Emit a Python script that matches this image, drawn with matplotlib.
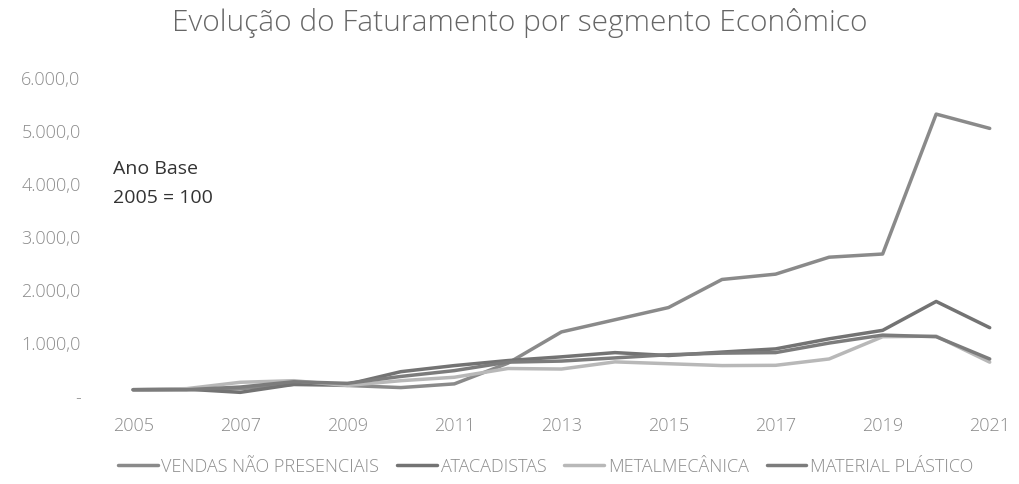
import matplotlib.pyplot as plt
from matplotlib.ticker import FuncFormatter, FixedLocator, MultipleLocator

# dados (índice, ano base 2005 = 100)
anos = list(range(2005, 2022))
vendas_nao_presenciais = [100, 100, 120, 200, 180, 140, 210, 600, 1190, 1420, 1650, 2180, 2280, 2600, 2660, 5300, 5030]
atacadistas = [100, 110, 50, 200, 200, 440, 555, 650, 720, 800, 745, 810, 870, 1060, 1220, 1765, 1270]
metalmecanica = [100, 120, 240, 270, 180, 270, 335, 500, 490, 625, 590, 555, 560, 680, 1100, 1110, 620]
material_plastico = [100, 100, 150, 250, 220, 350, 460, 620, 640, 700, 760, 790, 800, 980, 1130, 1100, 680]

series = [
    ("VENDAS NÃO PRESENCIAIS", vendas_nao_presenciais, "#8a8a8a"),
    ("ATACADISTAS", atacadistas, "#737373"),
    ("METALMECÂNICA", metalmecanica, "#b8b8b8"),
    ("MATERIAL PLÁSTICO", material_plastico, "#7c7c7c"),
]

plt.rcParams['font.family'] = ['Open Sans', 'DejaVu Sans']

fig = plt.figure(figsize=(10.2, 4.85), dpi=100)
ax = fig.add_axes([0.098, 0.1835, 0.887, 0.6557])

for nome, valores, cor in series:
    ax.plot(anos, valores, color=cor, lw=2.5, label=nome, solid_capstyle='round')

ax.set_xlim(2004.38, 2021.28)
ax.set_ylim(0, 6000)
ax.xaxis.set_major_locator(FixedLocator(anos[::2]))
ax.yaxis.set_major_locator(MultipleLocator(1000))


def fmt_valor(v, pos):
    if v == 0:
        return "-"
    s = f"{v:,.1f}"
    return s.replace(",", "X").replace(".", ",").replace("X", ".")


ax.yaxis.set_major_formatter(FuncFormatter(fmt_valor))
ax.tick_params(axis='both', length=0, colors="#8c8c8c", labelsize=13)
ax.tick_params(axis='y', pad=14)
ax.tick_params(axis='x', pad=15)
for t in ax.get_xticklabels() + ax.get_yticklabels():
    t.set_fontweight('light')
for sp in ax.spines.values():
    sp.set_visible(False)

fig.text(0.51, 0.952, "Evolução do Faturamento por segmento Econômico",
         ha='center', va='center', fontsize=21.5, color="#666666", fontweight='light')

ax.text(0.0144, 0.715, "Ano Base", transform=ax.transAxes,
        fontsize=14, color="#333333", va='center', ha='left')
ax.text(0.0144, 0.623, "2005 = 100", transform=ax.transAxes,
        fontsize=14, color="#333333", va='center', ha='left')

leg = fig.legend(loc='center', bbox_to_anchor=(0.535, 0.037), ncol=4, frameon=False,
                 fontsize=13, handlelength=2.2, handletextpad=0.2, columnspacing=1.0,
                 labelcolor="#8c8c8c")
for t in leg.get_texts():
    t.set_fontweight('light')

fig.savefig("out.png", dpi=100)
